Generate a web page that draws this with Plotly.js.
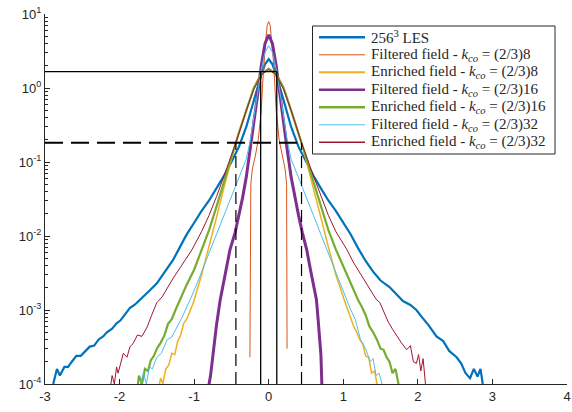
<!DOCTYPE html>
<html><head><meta charset="utf-8">
<script src="https://cdn.plot.ly/plotly-3.0.1.min.js"></script>
<style>html,body{margin:0;padding:0;background:#fff}#chart{width:572px;height:412px}</style>
</head><body><div id="chart"></div>
<script>
// ---- data ----
const lesX = [-2.95,-2.89,-2.84,-2.80,-2.74,-2.69,-2.64,-2.58,-2.52,-2.46,-2.40,-2.34,-2.28,-2.22,-2.17,-2.10,-2.04,-1.99,-1.92,-1.86,-1.80,-1.73,-1.66,-1.60,-1.50,-1.40,-1.28,-1.20,-1.10,-1.00,-0.90,-0.80,-0.70,-0.60,-0.50,-0.40,-0.30,-0.20,-0.10,-0.05,0,0.05,0.10,0.20,0.30,0.40,0.50,0.60,0.70,0.80,0.90,1.00,1.10,1.20,1.30,1.40,1.50,1.62,1.72,1.80,1.90,1.98,2.06,2.14,2.25,2.34,2.42,2.52,2.58,2.64,2.70,2.75,2.80,2.84,2.87,2.92];
const lesY = [6.3e-5,1.0e-4,1.6e-4,1.3e-4,1.7e-4,1.7e-4,2.0e-4,2.4e-4,2.4e-4,2.8e-4,3.2e-4,3.3e-4,4.0e-4,4.4e-4,5.0e-4,5.6e-4,6.6e-4,7.2e-4,8.9e-4,1.07e-3,1.17e-3,1.38e-3,1.58e-3,1.82e-3,2.29e-3,3.16e-3,4.8e-3,6.8e-3,1.05e-2,1.51e-2,2.19e-2,3.02e-2,4.4e-2,6.5e-2,0.1,0.16,0.3,0.68,1.51,2.09,2.45,2.09,1.51,0.68,0.3,0.16,0.1,6.5e-2,4.4e-2,3.02e-2,2.19e-2,1.51e-2,1.05e-2,6.8e-3,4.6e-3,3.3e-3,2.5e-3,2.04e-3,1.58e-3,1.32e-3,1.17e-3,1.0e-3,7.9e-4,6.3e-4,4.4e-4,3.8e-4,2.8e-4,2.3e-4,1.9e-4,1.4e-4,1.2e-4,1.6e-4,1.26e-4,1.6e-4,1.0e-4,6.3e-5];

const filt8X = [-0.252,-0.250,-0.248,-0.245,-0.24,-0.22,-0.18,-0.14,-0.10,-0.08,-0.06,-0.04,-0.02,0,0.02,0.04,0.06,0.08,0.10,0.14,0.18,0.22,0.24,0.244,0.246];
const filt8Y = [2.3e-4,1e-3,5e-3,2e-2,0.05,0.08,0.12,0.2,0.5,1.2,2.5,4.5,7.0,7.9,7.0,4.5,2.5,1.2,0.5,0.2,0.12,0.08,0.05,1e-2,3e-4];

const enr8X = [-1.52,-1.48,-1.45,-1.42,-1.38,-1.34,-1.30,-1.26,-1.22,-1.18,-1.14,-1.10,-1.01,-0.90,-0.81,-0.70,-0.60,-0.50,-0.44,-0.30,-0.20,-0.10,0,0.10,0.20,0.30,0.44,0.50,0.60,0.70,0.81,0.90,1.01,1.10,1.14,1.18,1.22,1.26,1.30,1.34,1.38,1.42,1.45,1.48,1.52];
const enr8Y = [5e-5,8e-5,1.2e-4,1.0e-4,1.6e-4,1.8e-4,2.6e-4,2.5e-4,3.8e-4,4.6e-4,6.6e-4,7.5e-4,1.26e-3,3.0e-3,6.5e-3,1.78e-2,4.5e-2,0.107,0.182,0.5,1.0,1.55,1.82,1.55,1.0,0.5,0.182,0.107,4.5e-2,1.78e-2,6.5e-3,3.0e-3,1.4e-3,7.5e-4,6.0e-4,5.0e-4,4.0e-4,3.5e-4,2.4e-4,2.3e-4,1.4e-4,1.5e-4,1.0e-4,7e-5,5e-5];

const filt16X = [-0.82,-0.80,-0.78,-0.76,-0.74,-0.72,-0.70,-0.65,-0.60,-0.56,-0.52,-0.45,-0.40,-0.35,-0.30,-0.25,-0.20,-0.15,-0.10,-0.05,0,0.05,0.10,0.15,0.20,0.25,0.30,0.35,0.40,0.45,0.51,0.56,0.60,0.64,0.66,0.68,0.70,0.71,0.72];
const filt16Y = [5e-5,1.0e-4,1.3e-4,2.0e-4,2.8e-4,4.5e-4,6.3e-4,1.38e-3,2.5e-3,4.4e-3,6.5e-3,1.12e-2,1.9e-2,3.3e-2,6.3e-2,0.141,0.316,0.794,2.0,3.98,5.25,3.98,2.0,0.794,0.316,0.141,6.3e-2,3.3e-2,1.9e-2,1.12e-2,6.5e-3,3.5e-3,2.2e-3,1.38e-3,8e-4,5e-4,2.5e-4,1.2e-4,5e-5];

const enr16X = [-1.78,-1.74,-1.70,-1.66,-1.62,-1.58,-1.54,-1.50,-1.45,-1.40,-1.35,-1.30,-1.25,-1.20,-1.10,-1.00,-0.90,-0.80,-0.70,-0.60,-0.50,-0.40,-0.30,-0.20,-0.10,0,0.10,0.20,0.30,0.40,0.50,0.60,0.70,0.80,0.90,1.00,1.10,1.20,1.25,1.30,1.35,1.40,1.45,1.50,1.54,1.58,1.62,1.66,1.70,1.74,1.78];
const enr16Y = [6e-5,1.3e-4,1.0e-4,1.6e-4,1.5e-4,2.1e-4,2.4e-4,3.0e-4,3.6e-4,4.5e-4,6.5e-4,7.5e-4,1.0e-3,1.3e-3,2.2e-3,3.5e-3,6.3e-3,1.2e-2,2.5e-2,5.4e-2,0.117,0.25,0.5,1.0,1.55,1.82,1.55,1.0,0.5,0.25,0.117,5.4e-2,2.5e-2,1.2e-2,6.6e-3,3.8e-3,2.3e-3,1.35e-3,1.1e-3,8.5e-4,6.0e-4,5.0e-4,4.0e-4,3.0e-4,2.9e-4,2.3e-4,2.0e-4,1.4e-4,1.6e-4,1.0e-4,6e-5];

const filt32X = [-1.76,-1.72,-1.68,-1.64,-1.60,-1.56,-1.50,-1.44,-1.36,-1.30,-1.23,-1.16,-1.10,-1.05,-0.96,-0.81,-0.70,-0.60,-0.50,-0.40,-0.30,-0.25,-0.20,-0.15,-0.10,-0.05,0,0.05,0.10,0.15,0.20,0.25,0.30,0.40,0.50,0.60,0.70,0.81,0.96,1.05,1.10,1.16,1.23,1.30,1.36,1.40,1.44,1.48,1.52,1.56];
const filt32Y = [6e-5,1.0e-4,1.4e-4,1.0e-4,1.7e-4,1.6e-4,2.3e-4,2.6e-4,4.0e-4,4.3e-4,5.9e-4,8.0e-4,1.1e-3,1.4e-3,2.3e-3,5.5e-3,1.05e-2,1.9e-2,3.4e-2,6.0e-2,0.11,0.19,0.4,0.891,1.78,3.02,3.72,3.02,1.78,0.891,0.4,0.19,0.11,6.0e-2,3.4e-2,1.9e-2,1.05e-2,5.5e-3,2.3e-3,1.38e-3,1.0e-3,7.5e-4,4.0e-4,3.0e-4,2.0e-4,2.2e-4,1.3e-4,1.4e-4,1.0e-4,6e-5];

const enr32X = [-2.16,-2.12,-2.10,-2.07,-2.04,-2.02,-1.99,-1.95,-1.90,-1.86,-1.82,-1.76,-1.70,-1.63,-1.57,-1.50,-1.43,-1.36,-1.28,-1.19,-1.10,-1.03,-0.90,-0.80,-0.70,-0.60,-0.44,-0.30,-0.20,-0.10,0,0.10,0.20,0.30,0.44,0.60,0.70,0.80,0.90,1.05,1.13,1.22,1.30,1.38,1.44,1.49,1.55,1.60,1.66,1.72,1.78,1.85,1.90,1.94,1.98,2.01,2.04,2.07,2.10,2.13];
const enr32Y = [5e-5,1.0e-4,1.3e-4,1.0e-4,1.7e-4,1.4e-4,1.9e-4,2.6e-4,2.3e-4,3.2e-4,3.5e-4,4.6e-4,4.4e-4,5.9e-4,8.5e-4,1.26e-3,1.5e-3,2.0e-3,2.7e-3,3.7e-3,5.0e-3,6.5e-3,1.15e-2,1.9e-2,3.4e-2,6.5e-2,0.182,0.5,0.955,1.51,1.78,1.51,0.955,0.5,0.182,6.5e-2,3.4e-2,1.9e-2,1.15e-2,6.5e-3,4.5e-3,3.2e-3,2.3e-3,1.7e-3,1.4e-3,1.26e-3,9e-4,7e-4,5.5e-4,4.4e-4,3.6e-4,2.9e-4,3.3e-4,2.0e-4,1.9e-4,2.5e-4,1.5e-4,2.2e-4,1.0e-4,5e-5];

// reference guide lines (levels / positions)
const axisXMin = -3;
const axisYMin = 1e-4;
const solidLevel = 1.66;
const solidHalfWidth = 0.108;
const dashedLevel = 0.182;
const dashedHalfWidth = 0.44;

const seriesNames = [
  '256<sup>3</sup> LES',
  'Filtered field - <i>k</i><sub><i>co</i></sub> = (2/3)8',
  'Enriched field - <i>k</i><sub><i>co</i></sub> = (2/3)8',
  'Filtered field - <i>k</i><sub><i>co</i></sub> = (2/3)16',
  'Enriched field - <i>k</i><sub><i>co</i></sub> = (2/3)16',
  'Filtered field - <i>k</i><sub><i>co</i></sub> = (2/3)32',
  'Enriched field - <i>k</i><sub><i>co</i></sub> = (2/3)32'
];
const xTicks = [-3,-2,-1,0,1,2,3,4];
const yTicks = [1e-4,1e-3,1e-2,1e-1,1,10];
const yTickText = ['10<sup>-4</sup>','10<sup>-3</sup>','10<sup>-2</sup>','10<sup>-1</sup>','10<sup>0</sup>','10<sup>1</sup>'];
const yMinorTicks = [];
[1e-4,1e-3,1e-2,1e-1,1].forEach(d => { for (let k = 2; k <= 9; k++) yMinorTicks.push(d * k); });

const colors = ['#0072BD','#D95319','#EDB120','#7E2F8E','#77AC30','#4DBEEE','#A2142F'];
const widths = [2.2, 1, 1.5, 3, 2.2, 1, 1];
const legendWidths = [2.4, 1, 2, 2.6, 2.4, 1, 1.4];
const xs = [lesX, filt8X, enr8X, filt16X, enr16X, filt32X, enr32X];
const ys = [lesY, filt8Y, enr8Y, filt16Y, enr16Y, filt32Y, enr32Y];

const traces = xs.map((x, i) => ({
  x: x, y: ys[i], type: 'scatter', mode: 'lines', name: seriesNames[i], showlegend: false,
  line: {color: colors[i], width: widths[i]}
}));

traces.push({
  x: [axisXMin, solidHalfWidth, null, -solidHalfWidth, -solidHalfWidth, null, solidHalfWidth, solidHalfWidth],
  y: [solidLevel, solidLevel, null, axisYMin, solidLevel, null, axisYMin, solidLevel],
  type: 'scatter', mode: 'lines', showlegend: false, hoverinfo: 'skip',
  line: {color: '#000', width: 1.3}
});
traces.push({
  x: [axisXMin, dashedHalfWidth],
  y: [dashedLevel, dashedLevel],
  type: 'scatter', mode: 'lines', showlegend: false, hoverinfo: 'skip',
  line: {color: '#000', width: 2, dash: '18px,8px'}
});
traces.push({
  x: [-dashedHalfWidth, -dashedHalfWidth, null, dashedHalfWidth, dashedHalfWidth],
  y: [axisYMin, dashedLevel, null, axisYMin, dashedLevel],
  type: 'scatter', mode: 'lines', showlegend: false, hoverinfo: 'skip',
  line: {color: '#000', width: 1.2, dash: '12px,6px'}
});

// ---- hand-built legend box (pixel layout -> paper fractions) ----
const W = 572, H = 412, M = {l: 45, r: 5, t: 14, b: 28};
const PW = W - M.l - M.r, PH = H - M.t - M.b;
const px2x = p => (p - M.l) / PW;
const px2y = p => 1 - (p - M.t) / PH;
const legBox = {left: 312.5, right: 555, top: 26, bottom: 154};
const legRow0 = 37.3, legRowStep = 17.5, legLine0 = 319, legLine1 = 365, legText = 370;

const shapes = [{
  type: 'rect', xref: 'paper', yref: 'paper',
  x0: px2x(legBox.left), x1: px2x(legBox.right), y0: px2y(legBox.bottom), y1: px2y(legBox.top),
  fillcolor: '#fff', line: {color: '#262626', width: 1}, layer: 'above'
}];
const annotations = [];
seriesNames.forEach((nm, i) => {
  const yy = px2y(legRow0 + i * legRowStep);
  shapes.push({type: 'line', xref: 'paper', yref: 'paper', x0: px2x(legLine0), x1: px2x(legLine1), y0: yy, y1: yy,
    line: {color: colors[i], width: legendWidths[i]}, layer: 'above'});
  annotations.push({xref: 'paper', yref: 'paper', x: px2x(legText), y: yy, xanchor: 'left', yanchor: 'middle',
    text: nm, showarrow: false, borderpad: 0,
    font: {family: 'Liberation Serif, Times New Roman, serif', size: 15, color: '#262626'}});
});

const axFont = {family: 'Liberation Sans, Arial, sans-serif', size: 13, color: '#262626'};
const layout = {
  width: W, height: H,
  margin: {l: M.l, r: M.r, t: M.t, b: M.b, pad: 0},
  paper_bgcolor: '#fff', plot_bgcolor: '#fff',
  showlegend: false,
  shapes: shapes, annotations: annotations,
  xaxis: {
    range: [-3, 4], tickmode: 'array', tickvals: xTicks, ticktext: xTicks.map(String),
    ticks: 'inside', ticklen: 5, tickcolor: '#262626', tickwidth: 1,
    showline: true, linecolor: '#262626', linewidth: 1, mirror: false,
    showgrid: false, zeroline: false, tickfont: axFont, automargin: false
  },
  yaxis: {
    type: 'log', range: [-4, 1], tickmode: 'array', tickvals: yTicks, ticktext: yTickText,
    ticks: 'inside', ticklen: 5, tickcolor: '#262626', tickwidth: 1,
    minor: {tickmode: 'array', tickvals: yMinorTicks, ticks: 'inside', ticklen: 3, tickcolor: '#262626', showgrid: false},
    showline: true, linecolor: '#262626', linewidth: 1, mirror: false,
    showgrid: false, zeroline: false, tickfont: axFont, automargin: false
  }
};
Plotly.newPlot('chart', traces, layout, {displayModeBar: false, staticPlot: true});
</script>
</body></html>
